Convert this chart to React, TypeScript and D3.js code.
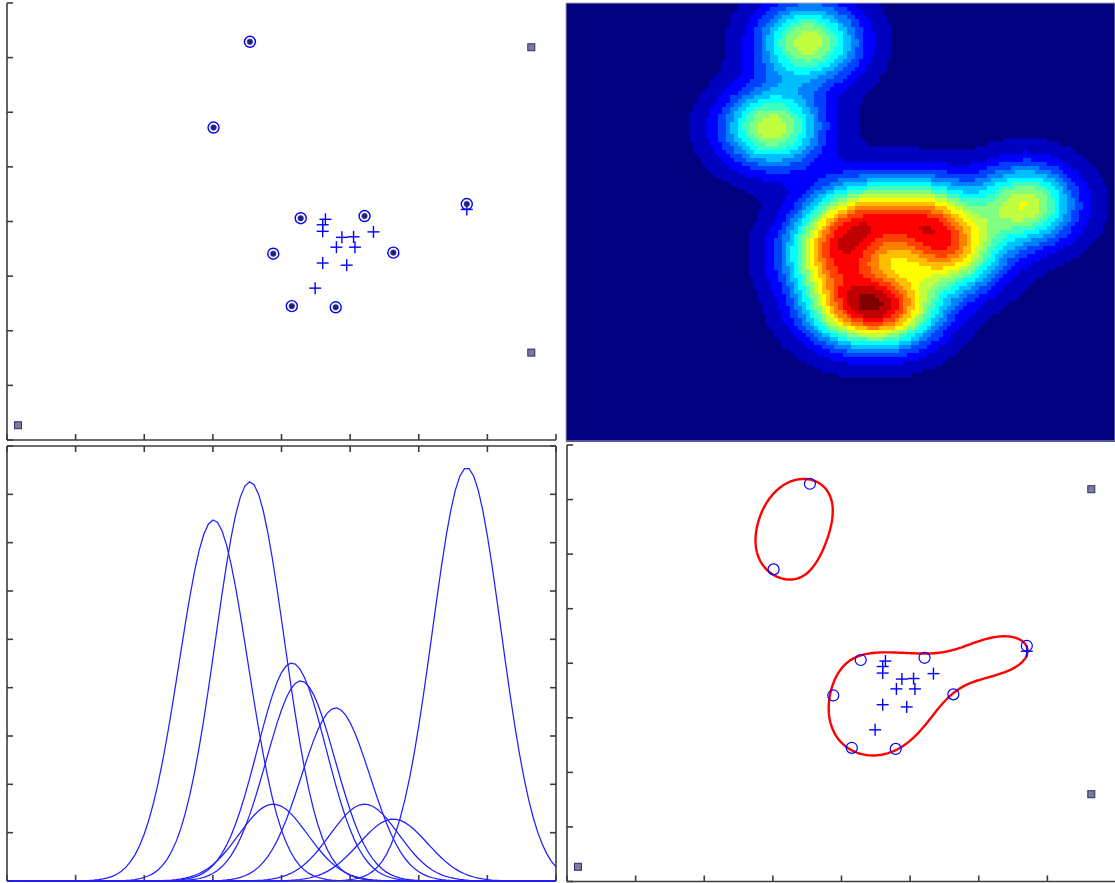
import React, { useMemo } from 'react';
import * as d3 from 'd3';

// Support vectors (circled points) in data units, with their kernel weights
const svX = [3.54, 3.01, 4.28, 5.21, 3.88, 5.63, 4.15, 4.79, 6.70];
const svY = [7.29, 5.72, 4.06, 4.10, 3.41, 3.43, 2.45, 2.43, 4.32];
const svAlpha = [0.826, 0.747, 0.414, 0.159, 0.159, 0.128, 0.451, 0.358, 0.855];

// Interior training points (plus markers)
const inX = [4.64, 4.60, 4.60, 4.88, 5.05, 5.34, 4.80, 5.07, 4.60, 4.95, 4.49, 6.70];
const inY = [4.04, 3.94, 3.82, 3.71, 3.72, 3.81, 3.53, 3.53, 3.24, 3.20, 2.78, 4.22];

// Bounding markers (small squares)
const boxX = [7.64, 7.64, 0.16];
const boxY = [7.19, 1.60, 0.27];

// Axis ticks (no labels are shown)
const xTicks = [0, 1, 2, 3, 4, 5, 6, 7, 8];
const yTicks = [0, 1, 2, 3, 4, 5, 6, 7, 8];
const kernelTicks = [0, 0.1, 0.2, 0.3, 0.4, 0.5, 0.6, 0.7, 0.8, 0.9];

const KERNEL_SIGMA = 0.5; // width of the plotted kernels and density map
const BOUNDARY_SIGMA = 1.0; // width of the kernel used for the boundary
const BOUNDARY_SLACK = 0.985; // boundary level relative to the mean support-vector value
const COLOR_LEVELS = 16;

const AXIS = '#3c3c3c';
const TICK = 6;

function jet(t: number): string {
  const c = (v: number) => Math.max(0, Math.min(1, v));
  const r = c(1.5 - Math.abs(4 * t - 3));
  const g = c(1.5 - Math.abs(4 * t - 2));
  const b = c(1.5 - Math.abs(4 * t - 1));
  return d3.rgb(r * 255, g * 255, b * 255).formatHex();
}

function PanelAxes({ xs, ys, box }: { xs: any; ys: any; box?: boolean }) {
  const [x0, x1] = xs.range();
  const [y0, y1] = ys.range();
  const els: React.ReactNode[] = [];
  els.push(<line key="L" x1={x0} x2={x0} y1={y0} y2={y1} />);
  els.push(<line key="B" x1={x0} x2={x1} y1={y0} y2={y0} />);
  if (box) {
    els.push(<line key="T" x1={x0} x2={x1} y1={y1} y2={y1} />);
    els.push(<line key="R" x1={x1} x2={x1} y1={y0} y2={y1} />);
  }
  xTicks.forEach((t) => {
    const px = xs(t);
    els.push(<line key={'xb' + t} x1={px} x2={px} y1={y0} y2={y0 - TICK} />);
    if (box) els.push(<line key={'xt' + t} x1={px} x2={px} y1={y1} y2={y1 + TICK} />);
  });
  const yt = ys.domain()[1] < 2 ? kernelTicks : yTicks;
  yt.forEach((t) => {
    const py = ys(t);
    els.push(<line key={'yl' + t} x1={x0} x2={x0 + TICK} y1={py} y2={py} />);
    if (box) els.push(<line key={'yr' + t} x1={x1} x2={x1 - TICK} y1={py} y2={py} />);
  });
  return (
    <g stroke={AXIS} strokeWidth={1.6} fill="none">
      {els}
    </g>
  );
}

function Plus({ x, y, s = 6 }: { x: number; y: number; s?: number }) {
  return (
    <g stroke="#0000ff" strokeWidth={1.4}>
      <line x1={x - s} x2={x + s} y1={y} y2={y} />
      <line x1={x} x2={x} y1={y - s} y2={y + s} />
    </g>
  );
}

function Square({ x, y }: { x: number; y: number }) {
  return <rect x={x - 3.5} y={y - 3.5} width={7} height={7} fill="#7c7c96" stroke="#2b2b7a" strokeWidth={1} />;
}

export default function App() {
  const W = 1115;
  const H = 883;

  const xTL = d3.scaleLinear().domain([0, 8]).range([7, 556]);
  const yTL = d3.scaleLinear().domain([0, 8]).range([440, 3]);
  const xTR = d3.scaleLinear().domain([0, 8]).range([566, 1115]);
  const yTR = d3.scaleLinear().domain([0, 8]).range([441, 3]);
  const xBL = d3.scaleLinear().domain([0, 8]).range([7, 556]);
  const yBL = d3.scaleLinear().domain([0, 0.9]).range([881, 446]);
  const xBR = d3.scaleLinear().domain([0, 8]).range([567, 1116]);
  const yBR = d3.scaleLinear().domain([0, 8]).range([881.5, 445]);

  // Density map of the support vectors, drawn as runs of equal-colour cells
  const heatRuns = useMemo(() => {
    const nx = 137;
    const ny = 110;
    const dens = new Float64Array(nx * ny);
    let max = 0;
    const h2 = 2 * KERNEL_SIGMA * KERNEL_SIGMA;
    for (let j = 0; j < ny; j++) {
      const y = 8 - ((j + 0.5) / ny) * 8;
      for (let i = 0; i < nx; i++) {
        const x = ((i + 0.5) / nx) * 8;
        let s = 0;
        for (let k = 0; k < svX.length; k++) {
          const dx = x - svX[k];
          const dy = y - svY[k];
          s += Math.exp(-(dx * dx + dy * dy) / h2);
        }
        dens[j * nx + i] = s;
        if (s > max) max = s;
      }
    }
    const colorOf = (v: number) => jet(Math.round((v / max) * COLOR_LEVELS) / COLOR_LEVELS);
    const runs: { i0: number; i1: number; j: number; c: string }[] = [];
    for (let j = 0; j < ny; j++) {
      let i0 = 0;
      let c = colorOf(dens[j * nx]);
      for (let i = 1; i <= nx; i++) {
        const ci = i < nx ? colorOf(dens[j * nx + i]) : '';
        if (ci !== c) {
          runs.push({ i0, i1: i, j, c });
          i0 = i;
          c = ci;
        }
      }
    }
    return { runs, nx, ny };
  }, []);

  // Kernel expansion for the enclosing boundary, and its level through the support vectors
  const boundaryPath = useMemo(() => {
    const nx = 240;
    const ny = 192;
    const s2 = 2 * BOUNDARY_SIGMA * BOUNDARY_SIGMA;
    const f = (x: number, y: number) => {
      let s = 0;
      for (let k = 0; k < svX.length; k++) {
        const dx = x - svX[k];
        const dy = y - svY[k];
        s += svAlpha[k] * Math.exp(-(dx * dx + dy * dy) / s2);
      }
      return s;
    };
    const level = (d3.mean(svX.map((x, k) => f(x, svY[k]))) as number) * BOUNDARY_SLACK;
    const values = new Float64Array(nx * ny);
    for (let j = 0; j < ny; j++) {
      const y = 8 - ((j + 0.5) / ny) * 8;
      for (let i = 0; i < nx; i++) {
        values[j * nx + i] = f(((i + 0.5) / nx) * 8, y);
      }
    }
    const contours = d3.contours().size([nx, ny]).thresholds([level])(Array.from(values));
    const proj = d3.geoTransform({
      point(px: number, py: number) {
        (this as any).stream.point(xBR((px / nx) * 8), yBR(8 - (py / ny) * 8));
      },
    });
    return d3.geoPath(proj)(contours[0] as any) || '';
  }, []);

  const kernelCurves = useMemo(() => {
    const xsData = d3.range(0, 121).map((i) => (i / 120) * 8);
    const line = d3
      .line<number[]>()
      .x((d) => xBL(d[0]))
      .y((d) => yBL(d[1]));
    return svX.map((cx, k) =>
      line(
        xsData.map((x) => [x, svAlpha[k] * Math.exp(-((x - cx) * (x - cx)) / (2 * KERNEL_SIGMA * KERNEL_SIGMA))])
      )
    );
  }, []);

  const cellW = 8 / heatRuns.nx;
  const cellH = 8 / heatRuns.ny;

  return (
    <svg
      width={W}
      height={H}
      style={{ position: 'absolute', left: 0, top: 0, background: '#fff' }}
      xmlns="http://www.w3.org/2000/svg"
    >
      <rect x={0} y={0} width={W} height={H} fill="#fff" />

      {/* Top left: training data */}
      <PanelAxes xs={xTL} ys={yTL} />
      {inX.map((x, i) => (
        <Plus key={'tp' + i} x={xTL(x)} y={yTL(inY[i])} />
      ))}
      {svX.map((x, i) => (
        <g key={'tc' + i}>
          <circle cx={xTL(x)} cy={yTL(svY[i])} r={5.5} fill="none" stroke="#0000ff" strokeWidth={1.4} />
          <circle cx={xTL(x)} cy={yTL(svY[i])} r={2.8} fill="#22226e" stroke="#3c3cc0" strokeWidth={0.6} />
        </g>
      ))}
      {boxX.map((x, i) => (
        <Square key={'ts' + i} x={xTL(x)} y={yTL(boxY[i])} />
      ))}

      {/* Top right: density map */}
      <g shapeRendering="crispEdges">
        {heatRuns.runs.map((r, idx) => {
          const x0 = xTR(r.i0 * cellW);
          const x1 = xTR(r.i1 * cellW);
          const y0 = yTR(8 - r.j * cellH);
          const y1 = yTR(8 - (r.j + 1) * cellH);
          return <rect key={idx} x={x0} y={y0} width={x1 - x0 + 0.6} height={y1 - y0 + 0.6} fill={r.c} />;
        })}
      </g>
      <rect x={566} y={3} width={549} height={438} fill="none" stroke="#a8a8a8" strokeWidth={1} />

      {/* Bottom left: weighted kernels */}
      <PanelAxes xs={xBL} ys={yBL} box />
      <g fill="none" stroke="#2020ff" strokeWidth={1.25}>
        {kernelCurves.map((d, i) => (
          <path key={'k' + i} d={d || ''} />
        ))}
      </g>

      {/* Bottom right: data with enclosing boundary */}
      <PanelAxes xs={xBR} ys={yBR} />
      <path d={boundaryPath} fill="none" stroke="#ff0000" strokeWidth={2.4} />
      {inX.map((x, i) => (
        <Plus key={'bp' + i} x={xBR(x)} y={yBR(inY[i])} />
      ))}
      {svX.map((x, i) => (
        <circle key={'bc' + i} cx={xBR(x)} cy={yBR(svY[i])} r={5.5} fill="none" stroke="#0000ff" strokeWidth={1.2} />
      ))}
      {boxX.map((x, i) => (
        <Square key={'bs' + i} x={xBR(x)} y={yBR(boxY[i])} />
      ))}
    </svg>
  );
}
